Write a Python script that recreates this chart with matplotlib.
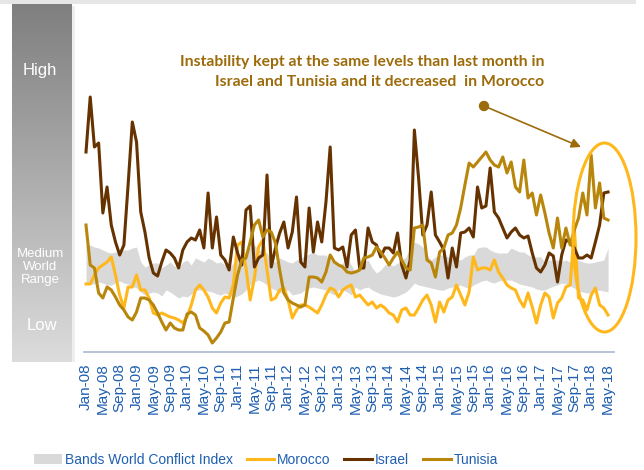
import numpy as np
import pandas as pd
import matplotlib
matplotlib.use("Agg")
from matplotlib import pyplot as plt
from matplotlib.patches import Patch, Ellipse, Circle, Rectangle
from matplotlib.lines import Line2D

# monthly index values, Jan-08 .. May-18
months = pd.date_range("2008-01-01", periods=125, freq="MS")

band_high = [115, 115, 113, 112, 110, 108, 107, 108, 108, 110, 110, 112, 113, 98, 93, 95, 97, 97, 92, 95, 98, 94, 92, 98, 100,
             95, 102, 100, 98, 102, 100, 97, 98, 95, 92, 97, 105, 106, 108, 113, 115, 110, 108, 107, 100, 98, 102, 100, 98, 97,
             100, 102, 104, 106, 108, 105, 105, 105, 100, 98, 95, 97, 103, 95, 88, 92, 98, 100, 92, 87, 90, 95, 96, 94, 97,
             100, 103, 112, 118, 116, 113, 105, 100, 103, 105, 105, 103, 102, 101, 100, 103, 105, 105, 112, 113, 113, 110, 108, 107, 107,
             107, 112, 110, 108, 108, 105, 103, 103, 103, 98, 100, 100, 100, 99, 100, 98, 98, 100, 98, 97, 97, 98, 99, 100, 112]
band_low = [78, 76, 76, 78, 77, 75, 75, 77, 79, 77, 76, 74, 72, 68, 65, 67, 68, 67, 64, 70, 68, 65, 62, 64, 63,
            66, 70, 70, 70, 69, 68, 66, 65, 67, 65, 62, 64, 66, 70, 75, 78, 80, 78, 75, 72, 70, 67, 69, 70, 65,
            66, 67, 70, 72, 73, 72, 71, 70, 67, 65, 70, 70, 68, 65, 73, 70, 72, 73, 70, 68, 66, 65, 64, 63, 64,
            66, 68, 72, 77, 75, 74, 73, 72, 71, 70, 70, 72, 73, 74, 75, 73, 72, 75, 77, 79, 80, 78, 77, 79, 80,
            80, 80, 78, 76, 75, 74, 73, 71, 70, 70, 72, 74, 75, 77, 76, 74, 72, 69, 68, 67, 67, 69, 70, 69, 68]
morocco = [76, 76, 85, 92, 95, 98, 103, 85, 65, 52, 73, 73, 85, 70, 70, 62, 47, 45, 47, 45, 43, 42, 40, 37, 43,
           55, 70, 75, 70, 63, 52, 47, 57, 63, 62, 75, 115, 118, 92, 60, 82, 113, 120, 90, 60, 62, 70, 72, 60, 42,
           50, 55, 55, 53, 50, 47, 55, 65, 72, 70, 63, 70, 73, 75, 63, 65, 60, 55, 58, 52, 55, 52, 47, 45, 38,
           50, 52, 45, 45, 52, 60, 65, 55, 38, 58, 48, 60, 63, 75, 65, 55, 68, 103, 90, 92, 92, 90, 100, 88, 82,
           75, 72, 70, 60, 53, 67, 53, 37, 55, 67, 63, 42, 57, 62, 73, 75, 132, 62, 60, 50, 65, 72, 55, 52, 45]
israel = [208, 263, 213, 217, 147, 173, 135, 118, 105, 115, 175, 238, 218, 148, 128, 102, 87, 84, 98, 110, 107, 102, 92, 110, 118,
          122, 120, 130, 112, 167, 112, 143, 105, 100, 90, 123, 107, 95, 150, 154, 93, 102, 105, 185, 93, 112, 127, 138, 112, 128,
          163, 98, 93, 152, 108, 138, 118, 158, 213, 112, 110, 113, 93, 125, 130, 92, 92, 132, 118, 115, 103, 112, 112, 107, 127,
          95, 82, 100, 230, 182, 125, 135, 168, 125, 118, 110, 82, 112, 93, 127, 128, 132, 123, 173, 152, 154, 192, 148, 142, 132,
          122, 128, 132, 125, 122, 124, 107, 92, 88, 95, 107, 104, 78, 105, 120, 118, 112, 102, 102, 105, 102, 118, 135, 167, 168]
tunisia = [135, 95, 92, 67, 62, 73, 70, 63, 55, 50, 43, 40, 48, 62, 62, 60, 55, 47, 38, 30, 37, 32, 30, 30, 46,
           48, 45, 32, 29, 25, 17, 22, 28, 37, 38, 62, 85, 100, 102, 118, 135, 140, 123, 130, 128, 117, 90, 67, 60, 57,
           55, 53, 55, 83, 83, 82, 78, 88, 105, 98, 95, 93, 88, 87, 88, 90, 102, 103, 105, 113, 108, 102, 95, 102, 108,
           100, 92, 90, 132, 133, 135, 100, 97, 83, 108, 112, 125, 127, 135, 152, 175, 197, 193, 198, 203, 208, 200, 195, 193, 203,
           187, 198, 173, 168, 200, 162, 167, 145, 165, 147, 127, 112, 142, 112, 132, 115, 130, 142, 167, 145, 205, 152, 177, 142, 140]

tick_labels = ["Jan-08", "May-08", "Sep-08", "Jan-09", "May-09", "Sep-09", "Jan-10", "May-10", "Sep-10",
               "Jan-11", "May-11", "Sep-11", "Jan-12", "May-12", "Sep-12", "Jan-13", "May-13", "Sep-13",
               "Jan-14", "May-14", "Sep-14", "Jan-15", "May-15", "Sep-15", "Jan-16", "May-16", "Sep-16",
               "Jan-17", "May-17", "Sep-17", "Jan-18", "May-18"]

c_band = "#D9D9D9"
c_mor = "#FFB81C"
c_isr = "#663300"
c_tun = "#B8860B"
c_txt = "#1F5FAF"
c_note = "#9C6B0A"

fig = plt.figure(figsize=(6.44, 4.70), dpi=100)

# thin grey strip at top
fig.add_artist(Rectangle((0, 1 - 4 / 470), 636 / 644, 4 / 470, transform=fig.transFigure,
                         color="#E6E6E6", lw=0))

# left gradient bar
gax = fig.add_axes([12 / 644, 1 - 362 / 470, 60 / 644, 358 / 470])
grad = np.linspace(0, 1, 256).reshape(-1, 1)
gax.imshow(grad, aspect="auto", cmap=matplotlib.colors.LinearSegmentedColormap.from_list(
    "g", ["#7F7F7F", "#DCDCDC"]))
gax.axis("off")
fig.add_artist(Rectangle((72 / 644, 1 - 362 / 470), 3 / 644, 356 / 470, transform=fig.transFigure,
                         color="#EEEEEE", lw=0))
fig.text(40 / 644, 1 - 70 / 470, "High", color="white", fontsize=12, ha="center", va="center",
         family="Liberation Sans")
fig.text(40 / 644, 1 - 267 / 470, "Medium\nWorld\nRange", color="white", fontsize=9.5, ha="center",
         va="center", family="Liberation Sans", linespacing=1.12)
fig.text(42 / 644, 1 - 326 / 470, "Low", color="white", fontsize=12, ha="center", va="center",
         family="Liberation Sans")

# main chart
ax = fig.add_axes([83.9 / 644, 1 - 352 / 470, 529.6 / 644, 312 / 470])
x = np.arange(len(months))
ax.fill_between(x, band_low, band_high, color=c_band, lw=0, label="Bands World Conflict Index")
ax.plot(x, morocco, color=c_mor, lw=2.2, label="Morocco")
ax.plot(x, israel, color=c_isr, lw=2.2, label="Israel")
ax.plot(x, tunisia, color=c_tun, lw=2.2, label="Tunisia")
ax.set_xlim(-0.5, 125.3)
ax.set_ylim(8, 320)
ax.set_xticks(x[::4])
ax.set_xticklabels(tick_labels, rotation=90, family="Liberation Sans")
ax.tick_params(axis="x", length=0, pad=8, labelsize=11, labelcolor=c_txt)
ax.set_yticks([])
for s in ["left", "top", "right"]:
    ax.spines[s].set_visible(False)
ax.spines["bottom"].set_color("#A9B7D0")
ax.spines["bottom"].set_linewidth(1.2)

# annotation
fig.text(544 / 644, 1 - 62 / 470, "Instability kept at the same levels than last month in",
         color=c_note, fontsize=11.3, fontweight="bold", ha="right", va="center", family="Lato")
fig.text(544 / 644, 1 - 82 / 470, "Israel and Tunisia and it decreased  in Morocco",
         color=c_note, fontsize=11.3, fontweight="bold", ha="right", va="center", family="Lato")
ax.annotate("", xy=(581, 470 - 147), xycoords="figure pixels", xytext=(484, 470 - 106),
            textcoords="figure pixels",
            arrowprops=dict(arrowstyle="-|>", color=c_note, lw=1.2, mutation_scale=14,
                            shrinkA=0, shrinkB=0))
fig.add_artist(Circle((4.84, (470 - 106) / 100), 0.045, transform=fig.dpi_scale_trans, color=c_note))
fig.add_artist(Ellipse((604.5 / 644, 1 - 237.5 / 470), 63 / 644, 189 / 470, transform=fig.transFigure,
                       fill=False, ec=c_mor, lw=2.2))

# legend
handles = [Patch(facecolor=c_band, edgecolor="none"),
           Line2D([], [], color=c_mor, lw=2.2),
           Line2D([], [], color=c_isr, lw=2.2),
           Line2D([], [], color=c_tun, lw=2.2)]
leg = fig.legend(handles, ["Bands World Conflict Index", "Morocco", "Israel", "Tunisia"],
                 loc="center", bbox_to_anchor=(266 / 644, 1 - 460 / 470), ncol=4, frameon=False,
                 handlelength=2.0, handletextpad=0.2, columnspacing=1.0,
                 prop={"family": "Liberation Sans", "size": 10})
for t in leg.get_texts():
    t.set_color(c_txt)

fig.savefig("out.png", dpi=100)
